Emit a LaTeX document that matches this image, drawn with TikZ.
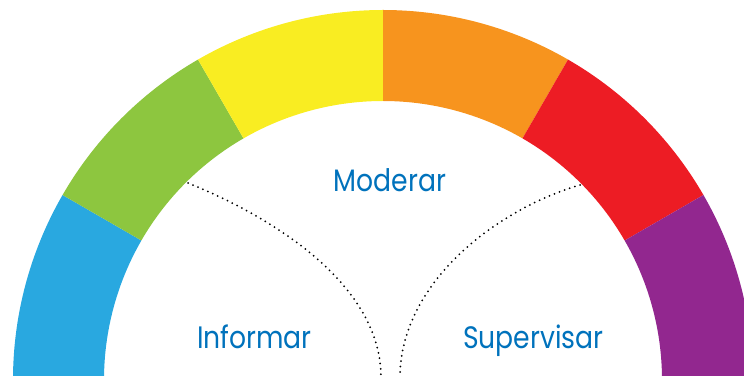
\documentclass[tikz,border=0pt]{standalone}
\usepackage{fontspec}
\setmainfont{Poppins}[FakeStretch=0.86]
\usepackage{xcolor}
\usetikzlibrary{positioning, calc}
\definecolor{segblue}{RGB}{41,168,224}
\definecolor{seggreen}{RGB}{141,198,63}
\definecolor{segyellow}{RGB}{249,237,34}
\definecolor{segorange}{RGB}{247,148,30}
\definecolor{segred}{RGB}{237,28,36}
\definecolor{segpurple}{RGB}{146,39,143}
\definecolor{textblue}{RGB}{0,114,188}
\tikzset{
    word/.style={anchor=base, text=textblue, font=\fontsize{31}{36}\selectfont, inner sep=0pt},
    dotline/.style={line width=2pt, dash pattern=on 0pt off 5.4pt, line cap=round, black}
}

\begin{document}
\begin{tikzpicture}[x=1pt, y=1pt]
  \clip (0,0) rectangle (744,375);
  \coordinate (c) at (383,-5);
  % ring segments
  \foreach \col [count=\i from 0] in {segblue,seggreen,segyellow,segorange,segred,segpurple}
    \fill[\col] ($(c)+({180-30*\i}:370)$) arc[start angle={180-30*\i}, end angle={150-30*\i}, radius=370]
      -- ($(c)+({150-30*\i}:279)$) arc[start angle={150-30*\i}, end angle={180-30*\i}, radius=279] -- cycle;
  % labels
  \node[word] (moderar) at (390,183) {Moderar};
  \node[word] (informar) at (254.5,27) {Informar};
  \node[word] (supervisar) at (533.5,27) {Supervisar};
  % dotted dividers
  \coordinate (ls) at (188,192);
  \coordinate (le) at (381,0);
  \coordinate (rs) at (580,190);
  \coordinate (re) at (400,0);
  \draw[dotline] (ls) .. controls (265,161) and (379,95) .. (le);
  \draw[dotline] (rs) .. controls (500,167) and (402,95) .. (re);
\end{tikzpicture}
\end{document}
